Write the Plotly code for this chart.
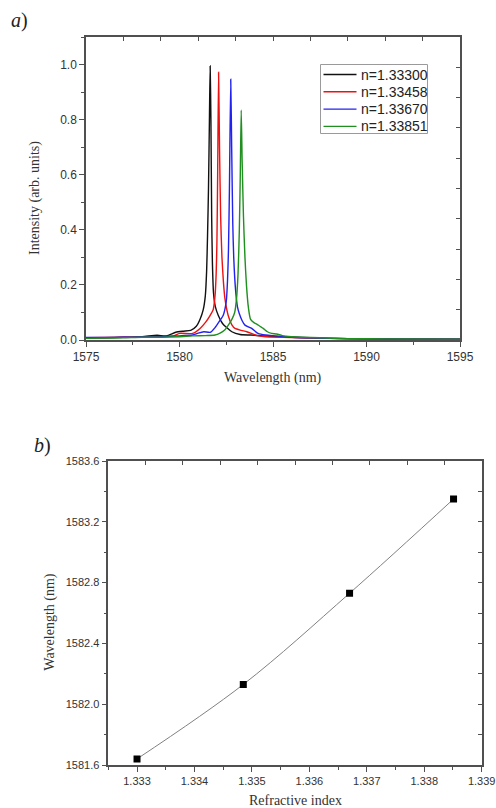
import plotly.graph_objects as go

# ---------------- data: panel a (spectra) ----------------
labels = ["n=1.33300", "n=1.33458", "n=1.33670", "n=1.33851"]
colors = ["#111111", "#ee1111", "#2222ee", "#1f8f1f"]

x_n1 = [1575, 1576, 1577, 1578, 1578.8, 1579.3, 1579.8, 1580.2, 1580.6, 1580.9, 1581.1, 1581.27, 1581.38,
        1581.45, 1581.5, 1581.55, 1581.6, 1581.64, 1581.68, 1581.72, 1581.76, 1581.82, 1581.92, 1582.07,
        1582.3, 1582.52, 1582.8, 1583.24, 1583.8, 1584.5, 1585.2, 1586, 1587, 1588, 1590, 1592, 1595]
y_n1 = [0.007, 0.008, 0.01, 0.012, 0.017, 0.015, 0.028, 0.032, 0.035, 0.05, 0.075, 0.11, 0.16,
        0.25, 0.38, 0.55, 0.8, 0.995, 0.8, 0.45, 0.28, 0.17, 0.12, 0.09,
        0.06, 0.045, 0.03, 0.02, 0.018, 0.015, 0.012, 0.01, 0.008, 0.006, 0.004, 0.003, 0.003]

x_n2 = [1575, 1576, 1577, 1578, 1579, 1579.7, 1580.0, 1580.7, 1581.1, 1581.4, 1581.6, 1581.8, 1581.9,
        1581.96, 1582.0, 1582.04, 1582.09, 1582.14, 1582.2, 1582.27, 1582.35, 1582.43, 1582.6, 1582.8,
        1582.97, 1583.3, 1583.6, 1584.1, 1584.6, 1585.5, 1586.5, 1588, 1590, 1595]
y_n2 = [0.008, 0.009, 0.01, 0.01, 0.012, 0.015, 0.024, 0.024, 0.042, 0.065, 0.085, 0.11, 0.16,
        0.24, 0.35, 0.6, 0.972, 0.7, 0.45, 0.3, 0.21, 0.15, 0.09, 0.055,
        0.042, 0.035, 0.03, 0.017, 0.012, 0.01, 0.008, 0.006, 0.004, 0.003]

x_n3 = [1575, 1576, 1577, 1578, 1579, 1580, 1580.7, 1581.0, 1581.3, 1581.65, 1581.9, 1582.1, 1582.34,
        1582.5, 1582.57, 1582.62, 1582.67, 1582.74, 1582.79, 1582.85, 1582.9, 1583.0, 1583.1, 1583.2,
        1583.35, 1583.5, 1583.86, 1584.2, 1584.6, 1585.2, 1586, 1587, 1588, 1590, 1595]
y_n3 = [0.009, 0.009, 0.01, 0.011, 0.012, 0.015, 0.018, 0.025, 0.03, 0.028, 0.045, 0.065, 0.09,
        0.14, 0.22, 0.33, 0.55, 0.947, 0.7, 0.42, 0.3, 0.18, 0.12, 0.095,
        0.07, 0.054, 0.042, 0.024, 0.018, 0.015, 0.01, 0.008, 0.006, 0.004, 0.003]

x_n4 = [1575, 1576, 1577, 1578, 1579, 1580, 1580.7, 1581.4, 1581.9, 1582.17, 1582.4, 1582.61, 1582.8,
        1582.95, 1583.05, 1583.13, 1583.2, 1583.25, 1583.3, 1583.35, 1583.42, 1583.5, 1583.58, 1583.68,
        1583.8, 1584.0, 1584.13, 1584.3, 1584.48, 1584.7, 1584.93, 1585.2, 1585.5, 1586, 1586.5,
        1587.5, 1589, 1591, 1595]
y_n4 = [0.006, 0.007, 0.008, 0.01, 0.01, 0.012, 0.015, 0.016, 0.018, 0.025, 0.035, 0.054, 0.075,
        0.1, 0.15, 0.24, 0.4, 0.6, 0.835, 0.65, 0.45, 0.3, 0.2, 0.12,
        0.075, 0.062, 0.058, 0.05, 0.042, 0.03, 0.024, 0.022, 0.016, 0.012, 0.01,
        0.008, 0.005, 0.004, 0.003]

spectra_x = [x_n1, x_n2, x_n3, x_n4]
spectra_y = [y_n1, y_n2, y_n3, y_n4]

# ---------------- data: panel b (peak wavelength vs index) ----------------
refractive_index = [1.33300, 1.33485, 1.33670, 1.33851]
peak_wavelength = [1581.64, 1582.13, 1582.73, 1583.35]

# ---------------- figure ----------------
W, H = 496, 808
AX = "#505050"
TICKFONT_A = dict(family="Liberation Sans, Arial", size=12, color="#333333")
TICKFONT_B = dict(family="Liberation Sans, Arial", size=11, color="#333333")
TITLEFONT = dict(family="Liberation Serif, Times New Roman", size=14, color="#333333")


def px_x(p):
    return p / W


def px_y(p):
    return 1 - p / H


fig = go.Figure()

for xs, ys, lab, col in zip(spectra_x, spectra_y, labels, colors):
    fig.add_trace(go.Scatter(x=xs, y=ys, mode="lines", name=lab,
                             line=dict(color=col, width=1.4, shape="spline", smoothing=0.6),
                             xaxis="x", yaxis="y", showlegend=False))

fig.add_trace(go.Scatter(x=refractive_index, y=peak_wavelength, mode="lines+markers",
                         line=dict(color="#808080", width=1, shape="spline"),
                         marker=dict(symbol="square", size=7, color="black"),
                         showlegend=False, xaxis="x2", yaxis="y2"))

# dummy traces for the inward top/right frame axes
fig.add_trace(go.Scatter(x=[None], y=[None], xaxis="x3", yaxis="y3", showlegend=False, hoverinfo="skip"))
fig.add_trace(go.Scatter(x=[None], y=[None], xaxis="x4", yaxis="y4", showlegend=False, hoverinfo="skip"))

a_dom_x = [px_x(86), px_x(460)]
a_dom_y = [px_y(340), px_y(37)]
b_dom_x = [px_x(108.3), px_x(481.7)]
b_dom_y = [px_y(765), px_y(461)]

common = dict(showline=True, linecolor=AX, linewidth=1.5, showgrid=False, zeroline=False,
              ticks="outside", tickcolor=AX, tickwidth=1, ticklen=5, automargin=False)

mirror_common = dict(showline=True, linecolor=AX, linewidth=1.5, showgrid=False, zeroline=False,
                     ticks="inside", tickcolor=AX, tickwidth=1, ticklen=4, showticklabels=False,
                     range=[0, 10], dtick=1, tick0=0, fixedrange=True, automargin=False)

fig.update_layout(
    width=W, height=H,
    margin=dict(l=0, r=0, t=0, b=0, autoexpand=False),
    paper_bgcolor="white", plot_bgcolor="white",
    showlegend=False,
    xaxis=dict(domain=a_dom_x, anchor="y", range=[1575, 1595], tick0=1575, dtick=5, tickfont=TICKFONT_A,
               minor=dict(dtick=2.5, ticklen=3, ticks="outside", tickcolor=AX), **common),
    yaxis=dict(domain=a_dom_y, anchor="x", range=[0, 1.1], tick0=0, dtick=0.2, tickformat=".1f",
               tickfont=TICKFONT_A,
               minor=dict(dtick=0.1, ticklen=3, ticks="outside", tickcolor=AX), **common),
    xaxis2=dict(domain=b_dom_x, anchor="y2", range=[1.3325, 1.3390001], tick0=1.333, dtick=0.001,
                tickformat=".3f", tickfont=TICKFONT_B,
                minor=dict(dtick=0.0005, ticklen=3, ticks="outside", tickcolor=AX), **common),
    yaxis2=dict(domain=b_dom_y, anchor="x2", range=[1581.6 - 1e-6, 1583.6 + 1e-6], tick0=1581.6,
                dtick=0.4, tickformat=".1f", tickfont=TICKFONT_B,
                minor=dict(dtick=0.2, ticklen=3, ticks="outside", tickcolor=AX), **common),
    xaxis3=dict(overlaying="x", anchor="y", side="top", **mirror_common),
    yaxis3=dict(overlaying="y", anchor="x", side="right", **mirror_common),
    xaxis4=dict(overlaying="x2", anchor="y2", side="top", **mirror_common),
    yaxis4=dict(overlaying="y2", anchor="x2", side="right", **mirror_common),
)

# ---- legend box (drawn to match the original compact layout) ----
LEG_BOX = (320.5, 64.5, 427.5, 133.5)
LEG_ROWS = [74.5, 91.8, 109.1, 126.4]
fig.add_shape(type="rect", xref="paper", yref="paper",
              x0=px_x(LEG_BOX[0]), x1=px_x(LEG_BOX[2]), y0=px_y(LEG_BOX[3]), y1=px_y(LEG_BOX[1]),
              line=dict(color="#9a9a9a", width=1), fillcolor="white", layer="above")
for lab, col, yr in zip(labels, colors, LEG_ROWS):
    fig.add_shape(type="line", xref="paper", yref="paper",
                  x0=px_x(323.5), x1=px_x(356.5), y0=px_y(yr), y1=px_y(yr),
                  line=dict(color=col, width=1.4), layer="above")
    fig.add_annotation(xref="paper", yref="paper", x=px_x(358.5), y=px_y(yr), text=lab,
                       xanchor="left", yanchor="middle", showarrow=False,
                       font=dict(family="Liberation Sans, Arial", size=14, color="#222222"))

annots = [
    dict(text="<i>a</i>)", x=px_x(19), y=px_y(20), font=dict(family="Liberation Serif", size=20, color="#222")),
    dict(text="<i>b</i>)", x=px_x(42), y=px_y(445), font=dict(family="Liberation Serif", size=20, color="#222")),
    dict(text="Intensity (arb. units)", x=px_x(35), y=px_y(198), textangle=-90, font=TITLEFONT),
    dict(text="Wavelength (nm)", x=px_x(273), y=px_y(377.7), font=TITLEFONT),
    dict(text="Wavelength (nm)", x=px_x(50), y=px_y(621.7), textangle=-90, font=TITLEFONT),
    dict(text="Refractive index", x=px_x(295), y=px_y(800), font=TITLEFONT),
]
for a in annots:
    fig.add_annotation(xref="paper", yref="paper", xanchor="center", yanchor="middle",
                       showarrow=False, **a)

fig.write_html(
    "out.html",
    config={"displayModeBar": False},
    post_script="document.body.style.margin='0';document.body.style.overflow='hidden';",
)
